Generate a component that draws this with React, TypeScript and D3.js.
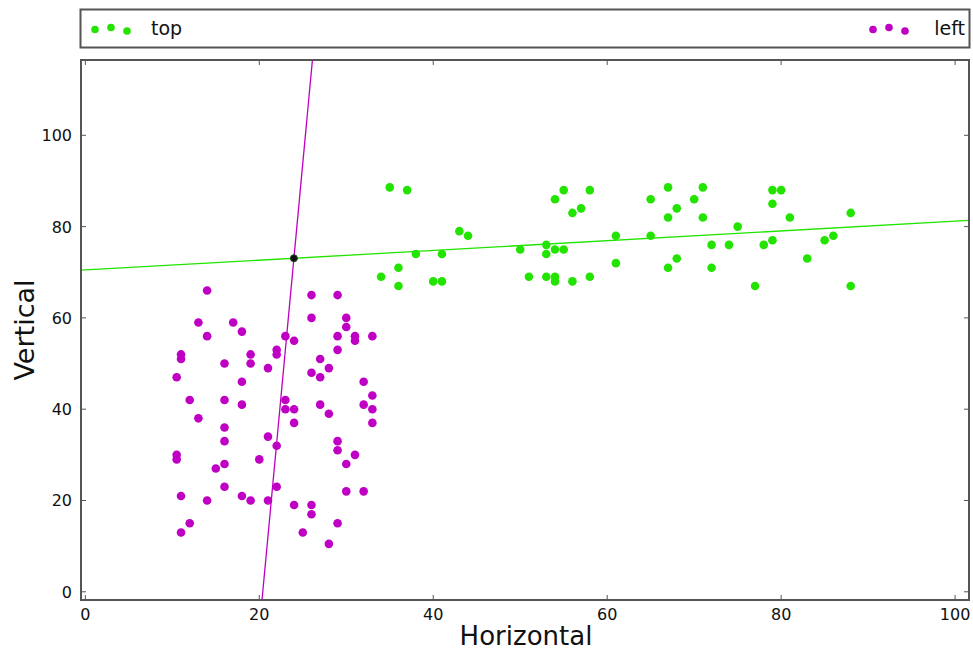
import React from 'react';
import * as d3 from 'd3';

// "left" group (magenta)
const leftX = [14, 13, 17, 18, 14, 11, 11, 16, 10.5, 12, 16, 18, 13, 16, 16, 10.5, 10.5, 16, 15, 16, 18, 11, 14, 12, 11,
  26, 29, 26, 30, 30, 23, 24, 29, 31, 31, 33, 29, 22, 22, 19, 19, 21, 27, 28, 26, 27, 18, 32, 23, 23, 24, 27, 28, 32,
  33, 33, 33, 24, 21, 22, 29, 29, 31, 20, 30, 22, 19, 21, 30, 32, 24, 26, 26, 29, 25, 28];
const leftY = [66, 59, 59, 57, 56, 52, 51, 50, 47, 42, 42, 41, 38, 36, 33, 30, 29, 28, 27, 23, 21, 21, 20, 15, 13,
  65, 65, 60, 60, 58, 56, 55, 56, 56, 55, 56, 53, 53, 52, 52, 50, 49, 51, 49, 48, 47, 46, 46, 42, 40, 40, 41, 39, 41,
  43, 40, 37, 37, 34, 32, 33, 31, 30, 29, 28, 23, 20, 20, 22, 22, 19, 19, 17, 15, 13, 10.5];

// "top" group (green)
const topX = [35, 37, 43, 44, 38, 41, 36, 34, 36, 40, 41, 50, 51, 53, 53, 54, 55, 53, 54, 54, 56, 54, 55, 56, 57, 58,
  58, 61, 61, 65, 65, 67, 68, 67, 70, 71, 71, 67, 68, 72, 72, 74, 75, 77, 78, 79, 79, 79, 80, 81, 83, 85, 86, 88, 88];
const topY = [88.6, 88, 79, 78, 74, 74, 71, 69, 67, 68, 68, 75, 69, 76, 74, 75, 75, 69, 69, 68, 68, 86, 88, 83, 84, 88,
  69, 78, 72, 86, 78, 88.6, 84, 82, 86, 88.6, 82, 71, 73, 76, 71, 76, 80, 67, 76, 77, 88, 85, 88, 82, 73, 77, 78, 83, 67];

// fitted lines: top -> y = a + b*x ; left -> x = c + d*y
const topFit = [70.5, 0.107];
const leftFit = [20.4, 0.049];

const xTicks = [0, 20, 40, 60, 80, 100];
const yTicks = [0, 20, 40, 60, 80, 100];

const GREEN = '#22e400';
const MAGENTA = '#bf00c4';
const FRAME = '#555';
const FONT = '"DejaVu Sans", sans-serif';

export default function App() {
  const W = 973, H = 652;
  const L = 81, R = 969, T = 60, B = 600;
  const x = d3.scaleLinear().domain([-0.5, 101.6]).range([L, R]);
  const y = d3.scaleLinear().domain([-1.8, 116.5]).range([B, T]);
  const [xd0, xd1] = x.domain();
  const [yd0, yd1] = y.domain();

  const greenLine = d3.line<number>().x(v => x(v)).y(v => y(topFit[0] + topFit[1] * v));
  const magLine = d3.line<number>().x(v => x(leftFit[0] + leftFit[1] * v)).y(v => y(v));

  // intersection of the two fits
  const iy = (topFit[0] + topFit[1] * leftFit[0]) / (1 - topFit[1] * leftFit[1]);
  const ix = leftFit[0] + leftFit[1] * iy;

  const legendDots = (cx: number, color: string) =>
    [[-16, 0.5], [0, -1.5], [16, 2]].map(([dx, dy], i) => (
      <circle key={i} cx={cx + dx} cy={29 + dy} r={3.8} fill={color} />
    ));

  return (
    <svg width={W} height={H} style={{ position: 'absolute', left: 0, top: 0, background: '#fff' }}
      fontFamily={FONT}>
      {/* legend */}
      <rect x={80.5} y={9.5} width={889} height={38} fill="#fff" stroke={FRAME} strokeWidth={2} />
      {legendDots(111, GREEN)}
      <text x={151} y={35} fontSize={19} fill="#111">top</text>
      {legendDots(889, MAGENTA)}
      <text x={965} y={35} fontSize={19} fill="#111" textAnchor="end">left</text>

      <defs>
        <clipPath id="plot"><rect x={L} y={T} width={R - L} height={B - T} /></clipPath>
      </defs>

      <g clipPath="url(#plot)">
        {leftX.map((v, i) => (
          <circle key={'l' + i} cx={x(v)} cy={y(leftY[i])} r={4.3} fill={MAGENTA} />
        ))}
        {topX.map((v, i) => (
          <circle key={'t' + i} cx={x(v)} cy={y(topY[i])} r={4.3} fill={GREEN} />
        ))}
        <path d={greenLine([xd0, xd1]) || ''} stroke={GREEN} strokeWidth={1.3} fill="none" />
        <path d={magLine([yd0, yd1]) || ''} stroke={MAGENTA} strokeWidth={1.3} fill="none" />
        <circle cx={x(ix)} cy={y(iy)} r={3.5} fill="#111" stroke="#224422" strokeWidth={1} />
      </g>

      {/* ticks, inward on all sides */}
      {xTicks.map(t => (
        <g key={'xt' + t}>
          <line x1={x(t)} x2={x(t)} y1={B} y2={B - 5} stroke={FRAME} strokeWidth={1} />
          <line x1={x(t)} x2={x(t)} y1={T} y2={T + 5} stroke={FRAME} strokeWidth={1} />
          <text x={x(t)} y={B + 20} fontSize={16} textAnchor="middle" fill="#111">{t}</text>
        </g>
      ))}
      {yTicks.map(t => (
        <g key={'yt' + t}>
          <line x1={L} x2={L + 5} y1={y(t)} y2={y(t)} stroke={FRAME} strokeWidth={1} />
          <line x1={R} x2={R - 5} y1={y(t)} y2={y(t)} stroke={FRAME} strokeWidth={1} />
          <text x={L - 9} y={y(t) + 6} fontSize={16} textAnchor="end" fill="#111">{t}</text>
        </g>
      ))}

      <rect x={L} y={T} width={R - L} height={B - T} fill="none" stroke={FRAME} strokeWidth={2} />

      <text x={526} y={645} fontSize={26} textAnchor="middle" fill="#111">Horizontal</text>
      <text transform={`translate(34,${(T + B) / 2}) rotate(-90)`} fontSize={27} textAnchor="middle" fill="#111">Vertical</text>
    </svg>
  );
}
